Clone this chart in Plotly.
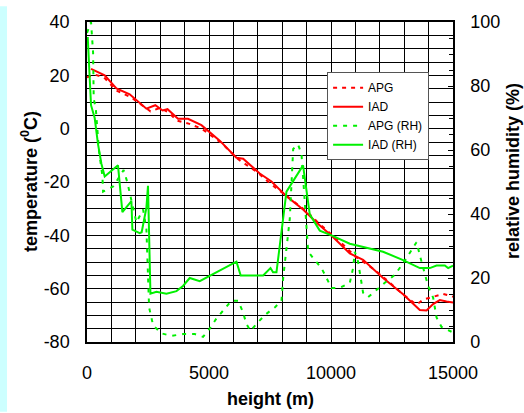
import plotly.graph_objects as go

# ---- data ----
h_apg_t = [0, 350, 700, 1200, 1800, 2300, 2600, 3000, 3300, 3700, 4200, 4700, 5500, 6200, 7000,
           7500, 8000, 8500, 9000, 9500, 10000, 10500, 11000, 11500, 12000, 12500, 13000, 13500,
           13800, 14200, 14600, 15000]
t_apg = [19.3, 20.2, 19.2, 14.3, 11.8, 8.5, 6.5, 7.8, 6.3, 3.0, 1.8, 0.0, -5.3, -11.5, -16.5,
         -20.5, -24.0, -27.5, -31.0, -35.5, -39.5, -43.5, -48.0, -51.0, -54.5, -58.5, -62.5, -66.0,
         -64.0, -63.0, -62.0, -63.0]

h_iad_t = [165, 725, 1205, 1750, 2435, 2800, 3100, 3300, 3730, 4140, 4690, 5440, 6125, 6400, 7080,
           7560, 8175, 8855, 9405, 10090, 10770, 11315, 12135, 12955, 13640, 13915, 14185, 14460,
           14735, 15000]
t_iad = [22.4, 20.0, 15.1, 12.9, 7.5, 8.8, 6.8, 7.3, 3.7, 3.7, 1.3, -4.5, -10.9, -11.3, -16.8,
         -19.8, -25.3, -30.3, -35.2, -40.7, -46.8, -49.2, -56.0, -62.1, -68.0, -68.2, -65.8, -64.3,
         -64.8, -65.2]

h_apg_rh = [0, 165, 250, 275, 360, 490, 630, 660, 1070, 1500, 1650, 1750, 2025, 2300, 2435, 2545,
            2710, 3050, 3460, 3935, 4415, 4755, 5030, 5300, 5645, 5920, 6190, 6395, 6530, 6700,
            7010, 7350, 7695, 7970, 8040, 8175, 8310, 8450, 8650, 8790, 9000, 9065, 9335, 9610,
            9815, 10020, 10360, 10770, 10905, 10975, 11110, 11180, 11315, 11520, 11865, 12205,
            12615, 12955, 13300, 13505, 13710, 13845, 13980, 14185, 14325, 14530, 14940]
rh_apg = [96.6, 100, 90.4, 76, 73, 59.8, 52, 47, 48.6, 53.7, 50, 46.6, 37.4, 41.4, 35.3, 10.8,
          5.2, 2.7, 1.9, 2.5, 2.5, 1.6, 4.2, 7.3, 10.3, 12.9, 12.9, 9.3, 5.7, 3.5,
          6.2, 8.8, 10.8, 12.9, 20, 29.2, 38.4, 60.3, 61.7, 58.8, 35.3, 28.2, 25.6, 23.1,
          20, 16.9, 16.9, 18.5, 23.1, 28.2, 25.1, 22, 15.4, 14, 16.4, 18.5,
          21, 24.6, 28.7, 31.2, 25.1, 21, 17.5, 13.9, 7.7, 4.7, 3.2]

h_iad_rh = [30, 165, 315, 450, 590, 725, 1270, 1450, 1820, 1860, 2160, 2240, 2435, 2500, 2600,
            2845, 3255, 3665, 3935, 4210, 4620, 6125, 6300, 7220, 7520, 7625, 7765, 8175, 8855,
            9130, 9540, 10020, 10770, 12135, 12955, 13640, 14050, 14325, 14665, 14800, 15000]
rh_iad = [95.3, 74, 70, 61.9, 55.7, 51.7, 55.2, 40.6, 44, 35.1, 34, 34.3, 42, 48.8, 15.1,
          15.7, 15.1, 15.9, 17.5, 20, 19, 25.1, 20.8, 20.8, 23.1, 21.8, 21.8, 47, 55.2,
          39.9, 34.8, 33.3, 30.7, 28.2, 25.6, 23.1, 23.1, 23.9, 23.9, 23.1, 23.9]

temp_ticks = [-80, -60, -40, -20, 0, 20, 40]
temp_ticklabels = ["-80", "-60", "-40", "-20", "0", "20", "40"]

FONT = "Arial, Liberation Sans, sans-serif"
RED = "#FF0000"
GREEN = "#00F000"

fig = go.Figure()
fig.add_trace(go.Scatter(x=h_apg_t, y=t_apg, name="APG", mode="lines",
                         line=dict(color=RED, width=2, dash="4px,5px")))
fig.add_trace(go.Scatter(x=h_iad_t, y=t_iad, name="IAD", mode="lines",
                         line=dict(color=RED, width=2)))
fig.add_trace(go.Scatter(x=h_apg_rh, y=rh_apg, name="APG (RH)", mode="lines", yaxis="y2",
                         line=dict(color=GREEN, width=2, dash="4px,6px")))
fig.add_trace(go.Scatter(x=h_iad_rh, y=rh_iad, name="IAD (RH)", mode="lines", yaxis="y2",
                         line=dict(color=GREEN, width=2)))

fig.update_layout(
    width=524, height=413,
    margin=dict(l=87, r=71, t=16, b=71),
    paper_bgcolor="white", plot_bgcolor="white",
    font=dict(family=FONT, size=18, color="black"),
    showlegend=True,
    legend=dict(x=0.656, y=0.843, xanchor="left", yanchor="top",
                bgcolor="white", bordercolor="#555555", borderwidth=1,
                font=dict(size=12, family=FONT), tracegroupgap=0),
    xaxis=dict(range=[0, 15000], dtick=5000, tick0=0, tickformat="d", showgrid=True,
               gridcolor="black", gridwidth=1, showline=True, linecolor="black", linewidth=1.5,
               mirror=True, ticks="", ticklabelstandoff=14, zeroline=False,
               minor=dict(dtick=1000, tick0=0, showgrid=True, gridcolor="black", gridwidth=1)),
    yaxis=dict(range=[-80, 40], tickmode="array", tickvals=temp_ticks, ticktext=temp_ticklabels,
               showgrid=True, gridcolor="black",
               gridwidth=1, showline=True, linecolor="black", linewidth=1.5, mirror=True,
               ticks="", ticklabelstandoff=12, zeroline=False,
               minor=dict(tickmode="linear", tick0=0, dtick=5, showgrid=True, gridcolor="black",
                          gridwidth=1)),
    yaxis2=dict(range=[0, 100], dtick=20, tick0=0, overlaying="y", side="right",
                showgrid=False, zeroline=False, showline=True, linecolor="black", linewidth=1.5,
                ticks="inside", ticklen=5, tickcolor="black", ticklabelstandoff=12,
                minor=dict(dtick=5, ticks="inside", ticklen=4, tickcolor="black")),
    shapes=[dict(type="rect", xref="paper", yref="paper", x0=-87/366, x1=-80/366,
                 y0=-71/326, y1=1+16/326, fillcolor="#CCFFFF", line=dict(width=0),
                 layer="below")],
    annotations=[
        dict(text="<b>temperature (<sup>0</sup>C)</b>", xref="paper", yref="paper",
             x=-58/366, y=0.5, textangle=-90, showarrow=False, xanchor="center",
             yanchor="middle", font=dict(size=18, family=FONT)),
        dict(text="<b>relative humidity (%)</b>", xref="paper", yref="paper",
             x=426/366, y=0.534, textangle=-90, showarrow=False, xanchor="center",
             yanchor="middle", font=dict(size=18, family=FONT)),
        dict(text="<b>height (m)</b>", xref="paper", yref="paper",
             x=0.5, y=-58/326, showarrow=False, xanchor="center", yanchor="middle",
             font=dict(size=18, family=FONT)),
    ],
)

fig.write_html("out.html", config={"displayModeBar": False},
               post_script="document.body.style.margin='0';")
